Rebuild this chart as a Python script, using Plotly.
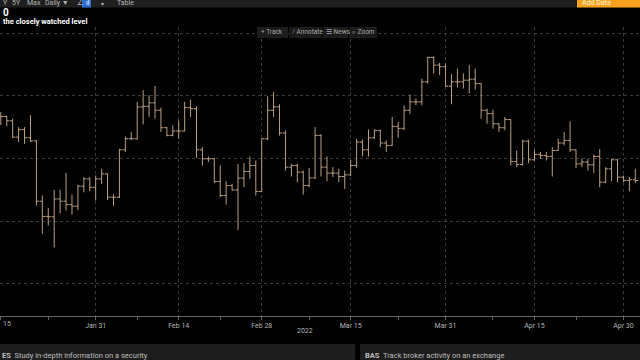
import pandas as pd
import plotly.graph_objects as go

# ---------------- data ----------------
dates = pd.date_range("2022-01-15", "2022-05-02", freq="D")

opens = [43300, 43350, 43000, 41700, 42300, 41650, 41400, 36590, 35380, 35350, 36770, 36590, 36320, 36190, 37790, 38370, 37700,
         38370, 38770, 36910, 36910, 40690, 41570, 41570, 44110, 44160, 44430, 43840, 42450, 41840, 42190, 42190, 44050,
         43970, 40690, 39970, 39970, 38160, 37040, 37840, 37490, 38430, 38960, 39440, 37360,
         41570, 43840, 44110, 42030, 39310, 39440, 38910, 37840, 38450, 41840, 39310, 38830, 38830, 38560, 38690, 39440,
         41310, 40690, 41650, 42240, 41230, 41040, 42560, 42400, 43840, 44510, 44510, 46110, 48050, 47440, 47310,
         45760, 46110, 46110, 46240, 46320, 45970, 43840, 43570, 42770, 42450, 43100, 39760, 39520, 41380, 39890,
         40320, 40240, 40160, 40640, 41230, 41440, 40690, 39570, 39710, 39490, 40160, 38110, 39170, 39890, 38510,
         38240, 38300]
highs = [43700, 43400, 43170, 42500, 42500, 43440, 41450, 37040, 36050, 37490, 37500, 38850, 37120, 37890, 38510, 38510, 38640,
         39170, 38800, 37120, 40770, 41760, 42110, 44510, 45440, 45040, 45790, 44050, 42510, 42640, 43040, 44510, 44690,
         44160, 40900, 40160, 40050, 39440, 38190, 37970, 39570, 39630, 40160, 39840, 41600,
         44960, 45310, 44320, 42240, 39570, 39570, 39040, 39250, 42510, 41920, 40160, 39310, 39170, 39040, 39890, 41570,
         41500, 42320, 42320, 42280, 41440, 43310, 42900, 44240, 45090, 44780, 46370, 48110, 48160, 47630, 47570,
         46720, 47170, 46770, 47440, 47170, 46000, 43970, 43890, 42830, 43310, 43120, 40640, 41490, 41490, 40690,
         40510, 40510, 40900, 41570, 42110, 42960, 40720, 39970, 39970, 40320, 40740, 39310, 39970, 39970, 38640,
         38510, 39170]
lows = [42640, 42560, 41650, 41300, 41170, 41300, 36240, 34000, 34640, 32900, 35630, 35840, 35520, 35890, 37300, 37390, 36640,
        37970, 36690, 36240, 36850, 40510, 41490, 41500, 42720, 43310, 43170, 42110, 41760, 41760, 41570, 42150, 43310,
        40050, 39440, 39710, 38030, 36900, 36320, 37440, 34290, 37710, 38370, 37040, 37310,
        41440, 43310, 41840, 39040, 38560, 38110, 37120, 37710, 38370, 38560, 38190, 38510, 38110, 37580, 38600, 39250,
        40160, 40160, 41570, 40900, 40510, 41000, 41650, 42240, 43570, 44240, 44240, 45970, 46770, 46640, 45710,
        44320, 45650, 45570, 45170, 45490, 43170, 42770, 42370, 42110, 42240, 39440, 39310, 39440, 39630, 39840,
        39970, 39840, 38560, 40600, 41040, 40510, 39250, 39310, 39040, 38830, 37710, 38030, 38190, 38110, 38110,
        37390, 38030]
closes = [43350, 43000, 41700, 42300, 41650, 41400, 36590, 35380, 35350, 36770, 36590, 36320, 36190, 37790, 38370, 37700, 38370,
          38770, 36910, 36910, 40690, 41570, 41570, 44110, 44160, 44430, 43840, 42450, 41840, 42190, 42190, 44050, 43970,
          40690, 39970, 39970, 38160, 37040, 37840, 37490, 38430, 38960, 39440, 37360, 41570,
          43840, 44110, 42030, 39310, 39440, 38910, 37840, 38450, 41840, 39310, 38830, 38830, 38560, 38690, 39440, 41310,
          40690, 41650, 42240, 41230, 41040, 42560, 42400, 43840, 44510, 44510, 46110, 48050, 47440, 47310, 45760,
          46110, 46110, 46240, 46320, 45970, 43840, 43570, 42770, 42450, 43100, 39760, 39520, 41380, 39890, 40320,
          40240, 40160, 40640, 41230, 41440, 40690, 39570, 39710, 39490, 40160, 38110, 39170, 39890, 38510, 38240,
          38300, 38240]

tick_dates = ["2022-01-15", "2022-01-31", "2022-02-14", "2022-02-28", "2022-03-15", "2022-03-31", "2022-04-15", "2022-04-30"]
tick_labels = ["", "Jan 31", "Feb 14", "Feb 28", "Mar 15", "Mar 31", "Apr 15", "Apr 30"]
edge_label = "15"          # the partly hidden "Jan 15" label at the left edge
minor_dates = ["2022-01-23", "2022-02-07", "2022-02-21", "2022-03-08", "2022-03-23", "2022-04-08", "2022-04-22"]

# ---------------- styling ----------------
W, H = 640, 360
TOP, BOT = 27, 316          # plot area in pixels
BAR = "#bb9f83"
GRID = "#3a3a3a"
FONT = "Roboto"


def px(xp, yp):
    return xp / W, (BOT - yp) / (BOT - TOP)


fig = go.Figure()
fig.add_trace(go.Ohlc(
    x=dates, open=opens, high=highs, low=lows, close=closes,
    increasing=dict(line=dict(color=BAR, width=1)),
    decreasing=dict(line=dict(color=BAR, width=1)),
    tickwidth=0.45, hoverinfo="skip", showlegend=False,
))

shapes = []
annotations = []


def rect(x0, y0, x1, y1, color, layer="above"):
    a0, b0 = px(x0, y1)
    a1, b1 = px(x1, y0)
    shapes.append(dict(type="rect", xref="paper", yref="paper", x0=a0, y0=b0, x1=a1, y1=b1,
                       fillcolor=color, line=dict(width=0), layer=layer))


def text(xp, yp, s, size=7, color="#b5b5b5", bold=False, anchor="left"):
    a, b = px(xp, yp)
    if bold:
        s = "<b>" + s + "</b>"
    annotations.append(dict(xref="paper", yref="paper", x=a, y=b, text=s, showarrow=False,
                            xanchor=anchor, yanchor="middle",
                            font=dict(family=FONT, size=size, color=color)))


# top toolbar
rect(0, 0, 640, 7.5, "#1f1f1f")
rect(577, 0, 640, 7.5, "#f5a11e")
rect(82, 0, 91, 7.5, "#2a6fd6")
text(1, 3.5, "Y", 7)
text(10, 3.5, "5Y", 7)
text(25, 3.5, "Max", 7)
text(43, 3.5, "Daily ▼", 7)
text(75, 3.5, "∠", 7)
text(84, 3.5, "ıl", 7, color="#ffffff")
text(99, 3.5, "▾", 6)
text(115, 3.5, "Table", 7)
text(580, 3.5, "Add Data", 7, color="#fff1d8")

# title lines
text(1, 13, "0", 10, color="#ffffff", bold=True)
text(1, 21.5, "the closely watched level", 7.5, color="#ffffff", bold=True)

# chart toolbar
rect(257, 27, 288, 38, "#1b1b1b")
rect(289, 27, 322, 38, "#1b1b1b")
rect(323, 27, 348, 38, "#1b1b1b")
rect(349, 27, 377, 38, "#1b1b1b")
text(259, 32.5, "+ Track", 6.5, color="#aaaaaa")
text(290, 32.5, "⁄ Annotate", 6.5, color="#aaaaaa")
text(324, 32.5, "☰ News", 6.5, color="#aaaaaa")
text(350, 32.5, "⌕ Zoom", 6.5, color="#aaaaaa")

# left-edge tick label and year label
text(1, 324.5, edge_label, 7, color="#b5b5b5")
text(305, 330.5, "2022", 7, color="#b5b5b5", anchor="center")

# bottom panels
rect(0, 344, 355, 360, "#1d1d1d")
rect(360, 344, 640, 360, "#1d1d1d")
text(0, 355.5, "<b>ES</b>  Study in-depth information on a security", 7.5, color="#bdbdbd")
text(363, 355.5, "<b>BAS</b>  Track broker activity on an exchange", 7.5, color="#bdbdbd")

fig.update_layout(
    width=W, height=H,
    margin=dict(l=0, r=0, t=TOP, b=H - BOT, pad=0, autoexpand=False),
    paper_bgcolor="#000000", plot_bgcolor="#000000",
    shapes=shapes, annotations=annotations,
    font=dict(family=FONT, size=7, color="#b5b5b5"),
    xaxis=dict(
        type="date",
        range=["2022-01-14 20:40", "2022-05-02 19:00"],
        autorange=False,
        rangeslider=dict(visible=False),
        tickmode="array", tickvals=tick_dates, ticktext=tick_labels,
        ticks="outside", ticklen=3, tickcolor="#666666",
        tickfont=dict(family=FONT, size=7, color="#b5b5b5"),
        ticklabeloverflow="allow", automargin=False,
        showgrid=True, gridcolor=GRID, griddash="dot", gridwidth=1,
        showline=True, linecolor="#666666", linewidth=1,
        zeroline=False, fixedrange=True,
        minor=dict(tickmode="array", tickvals=minor_dates, ticks="outside", ticklen=3,
                   tickcolor="#666666", showgrid=False),
    ),
    yaxis=dict(
        range=[27440, 50480], autorange=False, tick0=0, dtick=5000,
        showticklabels=False, ticks="", automargin=False,
        showgrid=True, gridcolor=GRID, griddash="dot", gridwidth=1,
        zeroline=False, showline=False, fixedrange=True, side="right",
    ),
)

fig.write_html(
    "out.html",
    config={"displayModeBar": False, "responsive": False},
    post_script="document.body.style.margin='0';document.body.style.padding='0';"
                "document.body.style.overflow='hidden';document.documentElement.style.overflow='hidden';",
)
